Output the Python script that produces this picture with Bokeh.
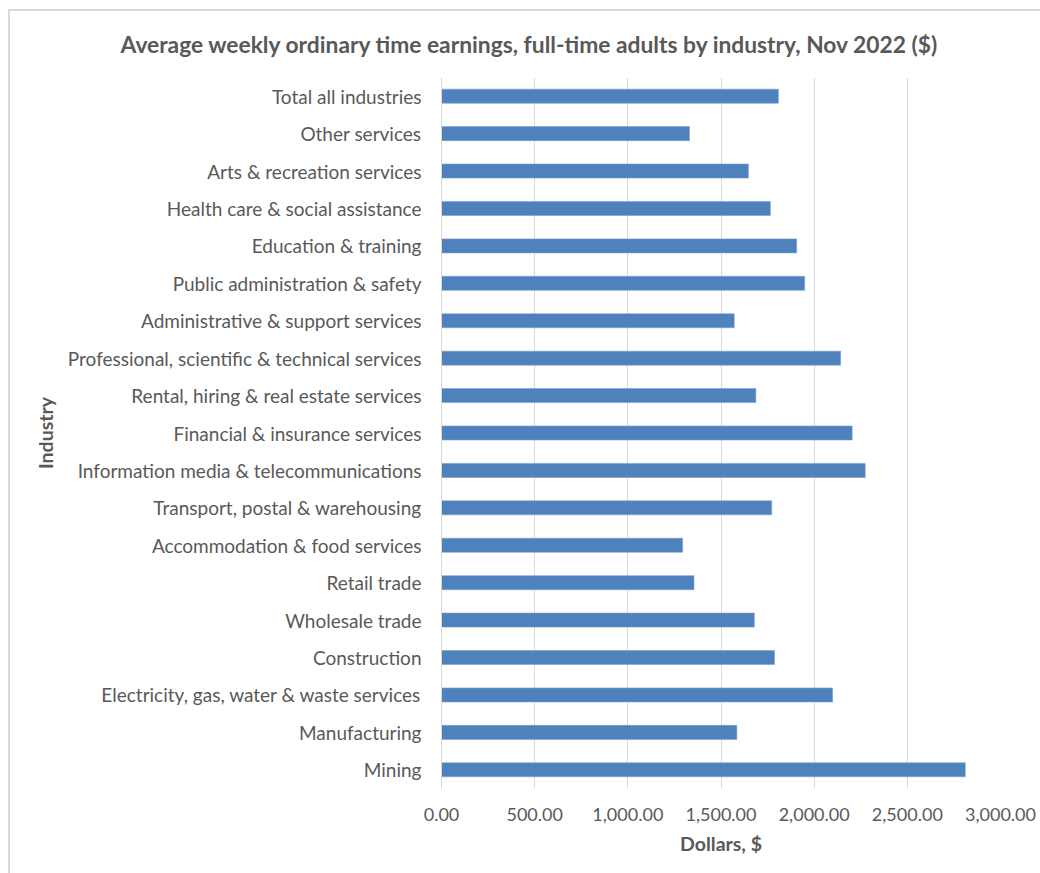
from bokeh.plotting import figure
from bokeh.models import FactorRange, Range1d, NumeralTickFormatter, SingleIntervalTicker, ColumnDataSource, InlineStyleSheet
from bokeh.embed import file_html
from bokeh.resources import INLINE

industries = [
    "Mining",
    "Manufacturing",
    "Electricity, gas, water & waste services",
    "Construction",
    "Wholesale trade",
    "Retail trade",
    "Accommodation & food services",
    "Transport, postal & warehousing",
    "Information media & telecommunications",
    "Financial & insurance services",
    "Rental, hiring & real estate services",
    "Professional, scientific & technical services",
    "Administrative & support services",
    "Public administration & safety",
    "Education & training",
    "Health care & social assistance",
    "Arts & recreation services",
    "Other services",
    "Total all industries",
]
earnings = [2811, 1585, 2099, 1787, 1679, 1355, 1294, 1772, 2274, 2204,
            1687, 2142, 1571, 1949, 1906, 1765, 1647, 1331, 1808]

TEXT = "#595959"
FONT = "Lato"

src = ColumnDataSource(data=dict(industry=industries, earnings=earnings))

frame_css = InlineStyleSheet(css="""
:host { position: relative; }
:host::after {
  content: "";
  position: absolute;
  left: 8px; top: 9px;
  width: 1200px; height: 1000px;
  border: 2px solid #d9d9d9;
  pointer-events: none;
  z-index: 100;
}
""")

p = figure(
    width=1040, height=873,
    y_range=FactorRange(factors=industries, range_padding=0.0),
    x_range=Range1d(0, 3000),
    output_backend="svg", toolbar_location=None,
    min_border_left=441, min_border_right=40, min_border_top=77, min_border_bottom=85,
    title="Average weekly ordinary time earnings, full-time adults by industry, Nov 2022 ($)",
    stylesheets=[frame_css],
)

p.hbar(y="industry", right="earnings", left=0, height=0.375, source=src,
       fill_color="#4f81bd", line_color="#7aa0cf", line_width=0.6)

p.title.text_font = FONT
p.title.text_font_size = "22.8px"
p.title.text_font_style = "bold"
p.title.text_color = TEXT
p.title.align = "left"
p.title.offset = -321
p.title.standoff = 39

p.outline_line_color = None
p.background_fill_color = "white"
p.border_fill_color = "white"

p.xaxis.ticker = SingleIntervalTicker(interval=500)
p.xaxis.formatter = NumeralTickFormatter(format="0,0.00")
p.xaxis.axis_line_color = None
p.xaxis.major_tick_line_color = None
p.xaxis.minor_tick_line_color = None
p.xaxis.major_label_text_font = FONT
p.xaxis.major_label_text_font_size = "18px"
p.xaxis.major_label_text_color = TEXT
p.xaxis.major_label_standoff = 13
p.xaxis.axis_label = "Dollars, $"
p.xaxis.axis_label_text_font = FONT
p.xaxis.axis_label_text_font_size = "19.5px"
p.xaxis.axis_label_text_font_style = "bold"
p.xaxis.axis_label_text_color = TEXT
p.xaxis.axis_label_standoff = 8

p.yaxis.axis_line_color = "#d9d9d9"
p.yaxis.axis_line_width = 1
p.yaxis.major_tick_line_color = None
p.yaxis.minor_tick_line_color = None
p.yaxis.major_label_text_font = FONT
p.yaxis.major_label_text_font_size = "19px"
p.yaxis.major_label_text_color = TEXT
p.yaxis.major_label_standoff = 14
p.yaxis.axis_label = "Industry"
p.yaxis.axis_label_text_font = FONT
p.yaxis.axis_label_text_font_size = "19.5px"
p.yaxis.axis_label_text_font_style = "bold"
p.yaxis.axis_label_text_color = TEXT
p.yaxis.axis_label_standoff = 8

p.xgrid.grid_line_color = "#d9d9d9"
p.xgrid.grid_line_width = 1
p.ygrid.grid_line_color = None

open("out.html", "w").write(file_html(p, INLINE))
